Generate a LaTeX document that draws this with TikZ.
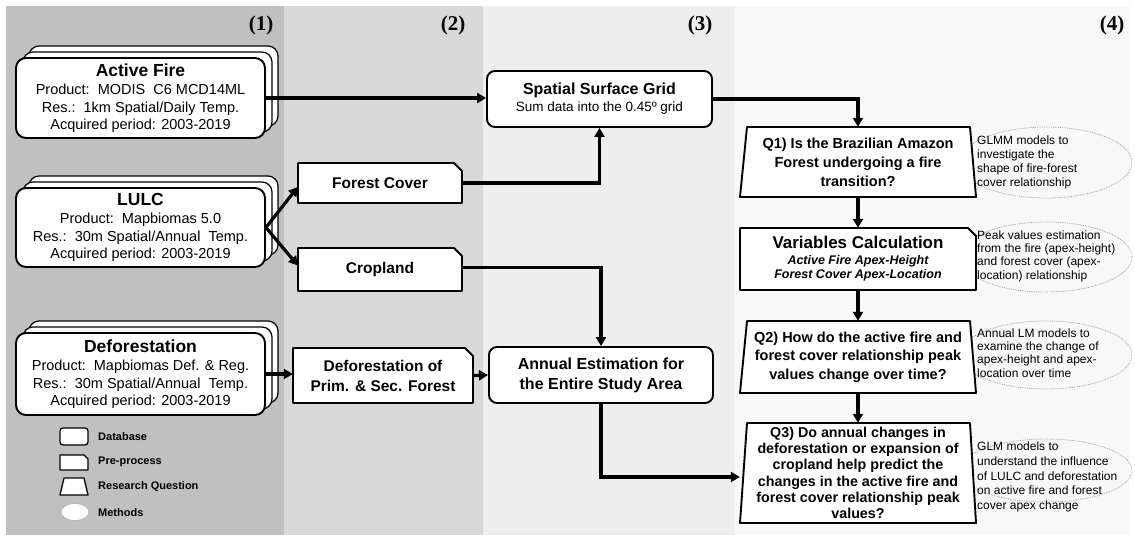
\documentclass[tikz,border=0pt]{standalone}
\usepackage{fontspec}
\setmainfont{Liberation Sans}
\newfontfamily\serifb{Liberation Serif}
\usetikzlibrary{arrows.meta,shapes.geometric}
\newcommand{\fsz}[2]{\fontsize{#1}{#2}\selectfont}
\definecolor{pone}{RGB}{192,192,192}
\definecolor{ptwo}{RGB}{216,216,216}
\definecolor{pthree}{RGB}{238,238,238}
\definecolor{pfour}{RGB}{248,248,248}
\newcommand{\prebox}[7]{%
  \draw[boxline] ({#2-#4/2},{#3+#5/2}) -- ({#2-#4/2},{#3-#5/2}) -- ({#2+#4/2-8},{#3-#5/2}) -- ({#2+#4/2},{#3-#5/2+8}) -- ({#2+#4/2},{#3+#5/2}) -- cycle;
  \node[txt, font=#6, minimum width=#4pt, minimum height=#5pt] (#1) at (#2,#3) {#7};}
\newcommand{\qbox}[7]{%
  \draw[boxline] ({#2-#4/2},{#3+#5/2}) -- ({#2-#4/2+7},{#3-#5/2}) -- ({#2+#4/2-6},{#3-#5/2}) -- ({#2+#4/2},{#3+#5/2}) -- cycle;
  \node[txt, font=#6, minimum width=#4pt, minimum height=#5pt] (#1) at (#2,#3) {#7};}
\newcommand{\dbbox}[6]{%
  \draw[backline] ({#2-#4/2+13},{#3-#5/2-12}) rectangle ({#2+#4/2+13},{#3+#5/2-12});
  \draw[backline] ({#2-#4/2+7},{#3-#5/2-6}) rectangle ({#2+#4/2+7},{#3+#5/2-6});
  \node[txt, draw, fill=white, line width=1.9pt, rounded corners=10pt, font=\fsz{14.5}{17.5}, minimum width=#4pt, minimum height=#5pt] (#1) at (#2,#3) {#6};}
\begin{document}
\begin{tikzpicture}[x=1pt,y=-1pt,
  boxline/.style={draw, fill=white, line width=1.9pt, line join=round},
  backline/.style={draw, fill=white, line width=1.2pt, rounded corners=10pt},
  txt/.style={align=center, inner sep=0pt},
  arr/.style={line width=3.2pt, -{Triangle[length=9pt,width=10pt]}},
  meth/.style={draw=gray!75, densely dotted, line width=0.8pt, ellipse},
  mtxt/.style={align=left, inner sep=0pt, anchor=west},
  plabel/.style={font=\serifb\bfseries\fsz{21}{22}, inner sep=0pt},
  legtxt/.style={font=\bfseries\fsz{11}{13}, anchor=west, inner sep=0pt}]
\useasboundingbox (0,0) rectangle (1135,545);
\fill[white] (0,0) rectangle (1135,545);
% panels
\fill[pone] (6,6) rectangle (284,535);
\fill[ptwo] (284,6) rectangle (483,535);
\fill[pthree] (483,6) rectangle (735,535);
\fill[pfour] (735,6) rectangle (1130,535);
\node[plabel] (l1) at (261,25) {(1)};
\node[plabel] (l2) at (453,25) {(2)};
\node[plabel] (l3) at (700,25) {(3)};
\node[plabel] (l4) at (1112,25) {(4)};
% databases
\dbbox{af}{140.5}{98}{249}{80}{{\fsz{17.5}{20}\bfseries Active Fire}\\[1pt]Product:\ \ MODIS\ \ C6 MCD14ML\\Res.:\ \ 1km Spatial/Daily Temp.\\Acquired period: 2003-2019}
\dbbox{lulc}{140.5}{227.5}{249}{79}{{\fsz{17.5}{20}\bfseries LULC}\\[1pt]Product:\ \ Mapbiomas 5.0\\Res.:\ \ 30m Spatial/Annual\ \ Temp.\\Acquired period: 2003-2019}
\dbbox{def}{140.5}{374}{249}{82}{{\fsz{17.5}{20}\bfseries Deforestation}\\[1pt]Product:\ \ Mapbiomas Def. \& Reg.\\Res.:\ \ 30m Spatial/Annual\ \ Temp.\\Acquired period: 2003-2019}
% legend
\draw[line width=1.3pt, fill=white, rounded corners=3pt] (60,428) rectangle (88,445);
\node[legtxt] (lg1) at (98,437) {Database};
\draw[line width=1.3pt, fill=white, line join=round] (60,470) -- (60,455) -- (84,455) -- (88,459) -- (88,470) -- cycle;
\node[legtxt] (lg2) at (98,462) {Pre-process};
\draw[line width=1.3pt, fill=white, line join=round] (60,495) -- (64,478) -- (84,478) -- (88,495) -- cycle;
\node[legtxt] (lg3) at (98,487) {Research Question};
\draw[draw=gray!60, line width=0.6pt, fill=white] (75,512) ellipse [x radius=14, y radius=8.5];
\node[legtxt] (lg4) at (98,513) {Methods};
% pre-process
\prebox{fc}{380}{183}{164}{40}{\fsz{15.5}{18}\bfseries}{Forest Cover}
\prebox{crop}{380}{269.5}{164}{43}{\fsz{15.5}{18}\bfseries}{Cropland}
\prebox{dps}{383}{375.5}{180}{55}{\fsz{15.5}{20}\bfseries}{Deforestation of\\Prim. \& Sec. Forest}
% column 3
\node[txt, draw, fill=white, line width=1.9pt, rounded corners=8pt, minimum width=225pt, minimum height=56pt, font=\fsz{13.5}{16}] (ssg) at (599.5,99) {{\fsz{16}{19}\bfseries Spatial Surface Grid}\\[1pt]Sum data into the 0.45º grid};
\node[txt, draw, fill=white, line width=1.9pt, rounded corners=8pt, minimum width=224pt, minimum height=56pt, font=\fsz{16}{20}\bfseries] (ann) at (601,375) {Annual Estimation for\\the Entire Study Area};
% methods ellipses
\node[meth, minimum width=172pt, minimum height=71pt] (e1) at (1046,162.5) {};
\node[meth, minimum width=172pt, minimum height=70pt] (e2) at (1046,257) {};
\node[meth, minimum width=172pt, minimum height=68pt] (e3) at (1046,355) {};
\node[meth, minimum width=172pt, minimum height=63pt] (e4) at (1046,470.5) {};
\node[mtxt, font=\fsz{12}{14}] (t1) at (977,162) {GLMM models to\\investigate the\\shape of fire-forest\\cover relationship};
\node[mtxt, font=\fsz{12}{13.3}] (t2) at (977,256) {Peak values estimation\\from the fire (apex-height)\\and forest cover (apex-\\location) relationship};
\node[mtxt, font=\fsz{12}{13.3}] (t3) at (977,353) {Annual LM models to\\examine the change of\\apex-height and apex-\\location over time};
\node[mtxt, font=\fsz{12}{14.8}] (t4) at (977,477) {GLM models to\\understand the influence\\of LULC and deforestation\\on active fire and forest\\cover apex change};
% questions
\qbox{q1}{858}{162}{236}{70}{\fsz{14.5}{19}\bfseries}{Q1) Is the Brazilian Amazon\\Forest undergoing a fire\\transition?}
\prebox{var}{858}{259}{236}{62}{\fsz{12.5}{14.5}\bfseries\itshape}{{\fsz{17}{20}\upshape Variables Calculation}\\[1pt]Active Fire Apex-Height\\Forest Cover Apex-Location}
\qbox{q2}{858}{357}{236}{72}{\fsz{14.5}{18.3}\bfseries}{Q2) How do the active fire and\\forest cover relationship peak\\values change over time?}
\qbox{q3}{858}{473}{236}{100}{\fsz{14.3}{16.3}\bfseries}{Q3) Do annual changes in\\deforestation or expansion of\\cropland help predict the\\changes in the active fire and\\forest cover relationship peak\\values?}
% connectors
\draw[arr] (af.east) -- (ssg.west |- af.east);
\draw[arr] (lulc.east) -- ([yshift=-4pt]fc.west);
\draw[arr] (lulc.east) -- ([yshift=4pt]crop.west);
\draw[arr] (fc.east) -| (ssg.south);
\draw[arr] ([yshift=2pt]crop.east) -| (ann.north);
\draw[arr] (def.east) -- (def.east -| dps.west);
\draw[arr] (dps.east) -- (ann.west);
\draw[arr] (ann.south) |- ([yshift=-4pt]q3.west);
\draw[arr] (ssg.east) -| (q1.north);
\draw[arr] (q1.south) -- (var.north);
\draw[arr] (var.south) -- (q2.north);
\draw[arr] (q2.south) -- (q3.north);
\end{tikzpicture}
\end{document}
